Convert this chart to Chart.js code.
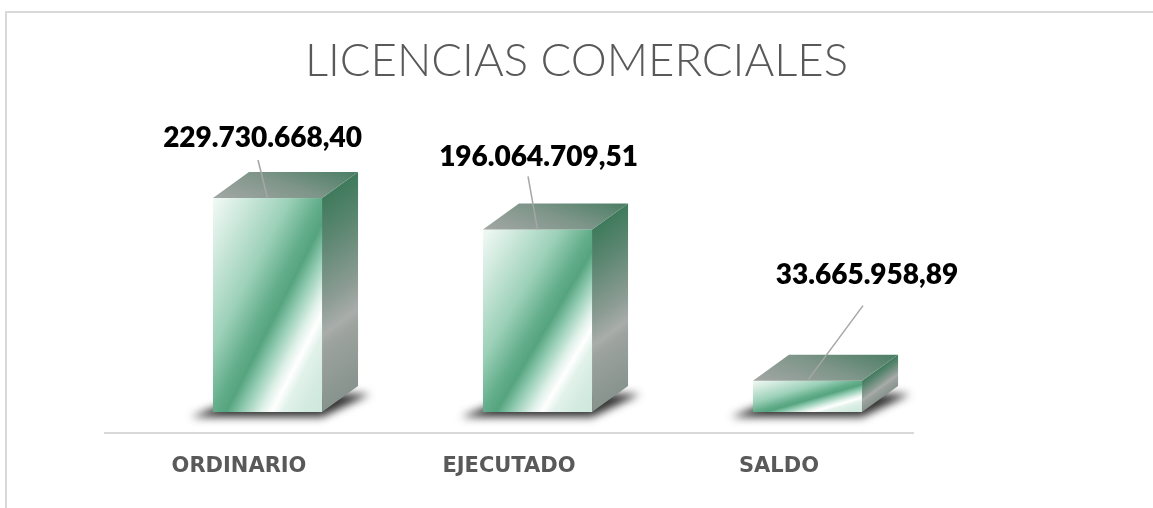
<!DOCTYPE html>
<html>
<head>
<meta charset="utf-8">
<script src="https://cdn.jsdelivr.net/npm/chart.js@4.4.1/dist/chart.umd.min.js"></script>
<style>
  html, body { margin: 0; padding: 0; background: #fff; }
</style>
</head>
<body>
<canvas id="chart" width="1153" height="508"></canvas>
<script>
const categories = ["ORDINARIO", "EJECUTADO", "SALDO"]
const values = [229730668.40, 196064709.51, 33665958.89]
const yMax = 300000000

const fmt = (n) => new Intl.NumberFormat("de-DE", { minimumFractionDigits: 2, maximumFractionDigits: 2 }).format(n)

// light grey frame (only top and left edges visible in the crop)
const framePlugin = {
  id: "frame",
  beforeDraw(chart) {
    const { ctx } = chart
    ctx.save()
    ctx.fillStyle = "#fff"
    ctx.fillRect(0, 0, chart.width, chart.height)
    ctx.strokeStyle = "#d9d9d9"
    ctx.lineWidth = 2
    ctx.beginPath()
    ctx.moveTo(6, chart.height)
    ctx.lineTo(6, 12)
    ctx.lineTo(chart.width, 12)
    ctx.stroke()
    ctx.restore()
  }
}

// fake 3D boxes drawn from the bar elements
const bar3dPlugin = {
  id: "bar3d",
  afterDatasetsDraw(chart, args, opts) {
    const { ctx, chartArea } = chart
    const meta = chart.getDatasetMeta(0)
    const { dx, dy, shift } = opts

    // floor line
    ctx.save()
    ctx.strokeStyle = "#d9d9d9"
    ctx.lineWidth = 2
    ctx.beginPath()
    ctx.moveTo(chartArea.left, chartArea.bottom + 21)
    ctx.lineTo(chartArea.right, chartArea.bottom + 21)
    ctx.stroke()
    ctx.restore()

    meta.data.forEach(el => {
      const w = el.width
      const x0 = el.x - w / 2 + shift
      const top = el.y
      const base = el.base
      const h = base - top

      // soft shadow under the box
      ctx.save()
      ctx.filter = "blur(4px)"
      ctx.fillStyle = "rgba(25,25,25,0.9)"
      ctx.beginPath()
      ctx.moveTo(x0 - 22, base + 5)
      ctx.lineTo(x0 + w, base + 5)
      ctx.lineTo(x0 + w + dx + 12, base + dy + 8)
      ctx.lineTo(x0 + dx, base + dy + 8)
      ctx.closePath()
      ctx.fill()
      ctx.restore()

      // front face
      ctx.save()
      ctx.translate(x0, top)
      ctx.scale(w, h)
      const gf = ctx.createLinearGradient(0, 0, 1, 1)
      gf.addColorStop(0, "#f2faf6")
      gf.addColorStop(0.15, "#cfe9dd")
      gf.addColorStop(0.35, "#9dd1b9")
      gf.addColorStop(0.5, "#62ad8a")
      gf.addColorStop(0.56, "#56a47f")
      gf.addColorStop(0.63, "#8fcab0")
      gf.addColorStop(0.72, "#dff1e9")
      gf.addColorStop(0.77, "#ffffff")
      gf.addColorStop(0.82, "#e2f2eb")
      gf.addColorStop(0.92, "#d2eadf")
      gf.addColorStop(1, "#cfe8dd")
      ctx.fillStyle = gf
      ctx.fillRect(0, 0, 1, 1)
      ctx.restore()

      // side face
      ctx.save()
      ctx.transform(dx, dy, 0, h, x0 + w, top)
      const gs = ctx.createLinearGradient(0, 0, 0, 1)
      gs.addColorStop(0, "#3f7a5c")
      gs.addColorStop(0.2, "#5a8670")
      gs.addColorStop(0.5, "#8c9c94")
      gs.addColorStop(0.64, "#a9adab")
      gs.addColorStop(0.7, "#9da39f")
      gs.addColorStop(1, "#87938e")
      ctx.fillStyle = gs
      ctx.fillRect(0, 0, 1, 1)
      ctx.restore()

      // top face
      ctx.save()
      ctx.transform(w, 0, dx, dy, x0, top)
      const gt = ctx.createLinearGradient(0, 0, 1, 1)
      gt.addColorStop(0, "#a3a7a5")
      gt.addColorStop(0.5, "#7f968a")
      gt.addColorStop(1, "#4a7d63")
      ctx.fillStyle = gt
      ctx.fillRect(0, 0, 1, 1)
      ctx.restore()
    })
  }
}

// value labels with leader lines
const valueLabelsPlugin = {
  id: "valueLabels",
  afterDraw(chart, args, opts) {
    const { ctx } = chart
    const meta = chart.getDatasetMeta(0)
    ctx.save()
    ctx.font = opts.font
    ctx.textAlign = "center"
    ctx.textBaseline = "middle"
    meta.data.forEach((el, i) => {
      const faceX = el.x + opts.shift
      const [ox, oy] = opts.offsets[i]
      const [lx, ly] = opts.lineStarts[i]
      const cx = faceX + ox
      const cy = el.y + oy
      ctx.strokeStyle = "#a6a6a6"
      ctx.lineWidth = 1.5
      ctx.beginPath()
      ctx.moveTo(cx + lx, cy + ly)
      ctx.lineTo(faceX, el.y)
      ctx.stroke()
      ctx.fillStyle = "#000"
      ctx.fillText(fmt(values[i]), cx, cy)
    })
    ctx.restore()
  }
}

new Chart(document.getElementById("chart"), {
  type: "bar",
  data: {
    labels: categories,
    datasets: [{
      data: values,
      backgroundColor: "rgba(0,0,0,0)",
      borderWidth: 0,
      categoryPercentage: 1,
      barPercentage: 0.404
    }]
  },
  plugins: [framePlugin, bar3dPlugin, valueLabelsPlugin],
  options: {
    responsive: false,
    animation: false,
    devicePixelRatio: 1,
    layout: { padding: 0 },
    plugins: {
      legend: { display: false },
      tooltip: { enabled: false },
      title: {
        display: true,
        text: "LICENCIAS COMERCIALES",
        color: "#595959",
        font: { family: "Lato", size: 45.5, weight: "300" },
        padding: { top: 34, bottom: 44 }
      },
      bar3d: { dx: 36, dy: -26, shift: 28.5 },
      valueLabels: {
        font: "800 28px Lato",
        shift: 28.5,
        offsets: [[-5, -60], [1, -72], [59.5, -106]],
        lineStarts: [[-4.5, 22], [-10.5, 19], [-4, 31]]
      }
    },
    scales: {
      x: {
        grid: { display: false, drawTicks: false },
        border: { display: false },
        ticks: {
          color: "#595959",
          padding: 42,
          font: { family: "DejaVu Sans", size: 21, weight: "bold" }
        },
        afterFit: (scale) => { scale.height = 96 }
      },
      y: {
        position: "left",
        min: 0,
        max: yMax,
        grid: { display: false, drawTicks: false },
        border: { display: false },
        ticks: { display: false },
        afterFit: (scale) => { scale.width = 104 }
      },
      yRight: {
        position: "right",
        min: 0,
        max: yMax,
        grid: { display: false, drawTicks: false },
        border: { display: false },
        ticks: { display: false },
        afterFit: (scale) => { scale.width = 239 }
      }
    }
  }
})
</script>
</body>
</html>
